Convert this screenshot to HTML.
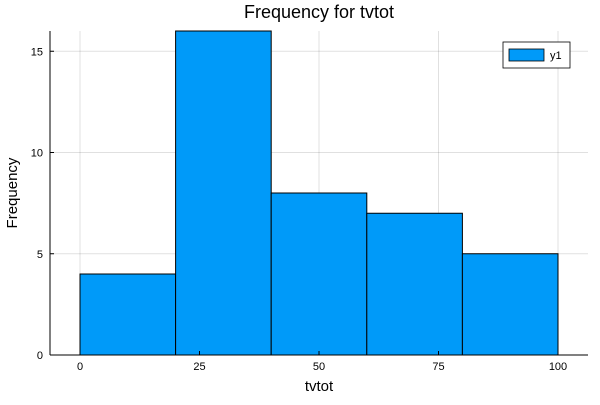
<!DOCTYPE html>
<html><head><meta charset="utf-8"><style>
body{margin:0;background:#fff;}
svg{font-family:"Liberation Sans",sans-serif;}
</style></head><body>
<svg id="chart" width="600" height="400" xmlns="http://www.w3.org/2000/svg">
<rect width="600" height="400" fill="#fff"/>
<text x="319" y="18" font-size="18" text-anchor="middle" fill="#000">Frequency for tvtot</text>
<text x="319" y="391" font-size="15" text-anchor="middle">tvtot</text>
<text transform="translate(17,193) rotate(-90)" font-size="15" text-anchor="middle">Frequency</text>
<g id="grid"></g><g id="bars"></g><g id="axes"></g>
<g>
<rect x="503" y="42" width="67" height="26" fill="#fff" stroke="#000" stroke-width="0.8"/>
<rect x="509" y="49" width="35" height="12" fill="#009af9" stroke="#000" stroke-width="0.8"/>
<text x="550" y="59" font-size="11">y1</text>
</g>
</svg>
<script>
const binEdges=[0,20,40,60,80,100];
const counts=[4,16,8,7,5];
const xTicks=[0,25,50,75,100];
const yTicks=[0,5,10,15];
const L=50,R=588,T=31,B=355;
const x=v=>80+(v-0)*(558-80)/100;
const y=v=>B-v*(B-T)/16;
const NS="http://www.w3.org/2000/svg";
function mk(t,a,p){const e=document.createElementNS(NS,t);for(const k in a)e.setAttribute(k,a[k]);p.appendChild(e);return e;}
const g=document.getElementById('grid'),b=document.getElementById('bars'),ax=document.getElementById('axes');
xTicks.forEach(v=>{
 const l=mk('line',{x1:x(v),x2:x(v),y1:T,y2:B,stroke:'#000','stroke-opacity':0.12,'stroke-width':1},g);
 
 
 const tk=mk('line',{x1:x(v),x2:x(v),y1:B,y2:B-4,stroke:'#000'},ax);
 
 
 const t=mk('text',{x:x(v),y:B+15,'font-size':11,'text-anchor':'middle'},ax);t.textContent=v;
 
 
});
yTicks.forEach(v=>{
 const l=mk('line',{x1:L,x2:R,y1:y(v),y2:y(v),stroke:'#000','stroke-opacity':0.12,'stroke-width':1},g);
 
 
 const tk=mk('line',{x1:L,x2:L+4,y1:y(v),y2:y(v),stroke:'#000'},ax);
 
 
 const t=mk('text',{x:L-7,y:y(v)+4,'font-size':11,'text-anchor':'end'},ax);t.textContent=v;
 
 
});
counts.forEach((c,i)=>{
 const r=mk('rect',{x:x(binEdges[i]),y:y(c),width:x(binEdges[i+1])-x(binEdges[i]),height:B-y(c),fill:'#009af9',stroke:'#000','stroke-width':1},b);
 
 
});
const xa=mk('line',{x1:L,x2:R,y1:B,y2:B,stroke:'#000'},ax);


const ya=mk('line',{x1:L,x2:L,y1:T,y2:B,stroke:'#000'},ax);


</script>
</body></html>
